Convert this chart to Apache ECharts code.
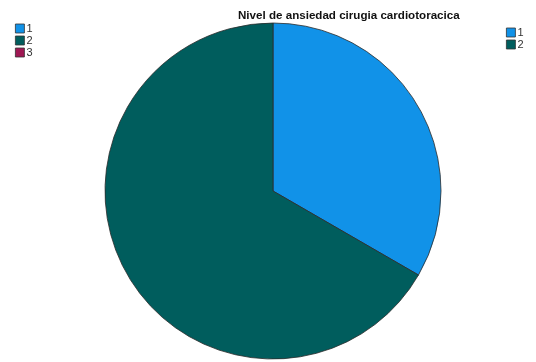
<!DOCTYPE html>
<html>
<head>
<meta charset="utf-8">
<script src="https://cdn.jsdelivr.net/npm/echarts@6/dist/echarts.min.js"></script>
<style>
  html, body { margin: 0; padding: 0; background: #fff; }
  #chart { width: 536px; height: 362px; }
</style>
</head>
<body>
<div id="chart"></div>
<script>
// Anxiety level categories and their counts
const categories = ['1', '2', '3'];
const counts = [1, 2, 0];
const sliceColors = ['#1192e8', '#005d5d', '#9f1853'];
const titleText = 'Nivel de ansiedad cirugia cardiotoracica';

const chart = echarts.init(document.getElementById('chart'), null, { renderer: 'canvas' });

const pieData = categories.map((name, i) => ({
  name: name,
  value: counts[i],
  itemStyle: {
    color: sliceColors[i],
    borderColor: '#2b2b2b',
    borderWidth: counts[i] > 0 ? 0.8 : 0
  }
}));

const legendCommon = {
  orient: 'vertical',
  icon: 'rect',
  itemWidth: 9,
  itemHeight: 9,
  itemGap: 1,
  padding: 0,
  selectedMode: false,
  textStyle: { fontFamily: 'Liberation Sans, Arial, sans-serif', fontSize: 11, lineHeight: 9, color: '#333', padding: [0, 0, 0, -3] },
  itemStyle: { borderColor: '#333', borderWidth: 0.8 }
};

chart.setOption({
  backgroundColor: '#ffffff',
  animation: false,
  title: {
    text: titleText,
    left: 238,
    top: 10,
    padding: 0,
    textStyle: { fontFamily: 'Liberation Sans, Arial, sans-serif', fontSize: 11.6, fontWeight: 'bold', color: '#111' }
  },
  legend: [
    Object.assign({}, legendCommon, { data: categories, left: 15, top: 23 }),
    Object.assign({}, legendCommon, { data: categories.filter((c, i) => counts[i] > 0), left: 506, top: 27 })
  ],
  series: [{
    type: 'pie',
    center: [273, 191],
    radius: 168,
    startAngle: 90,
    clockwise: true,
    label: { show: false },
    labelLine: { show: false },
    emphasis: { disabled: true },
    data: pieData
  }]
});
</script>
</body>
</html>
